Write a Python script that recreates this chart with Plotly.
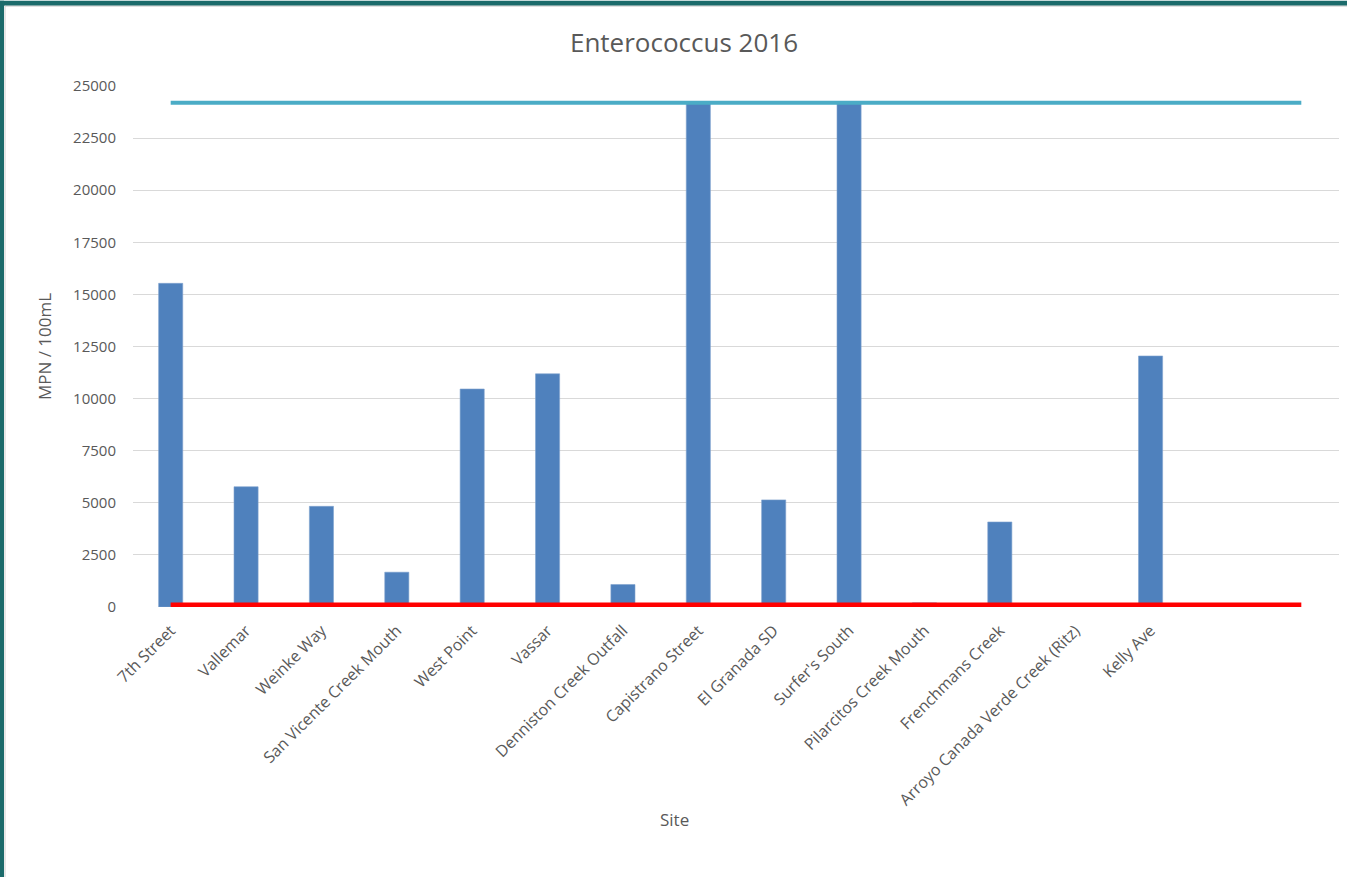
import plotly.graph_objects as go

# Enterococcus results per sampling site, 2016 (MPN / 100mL)
sites = [
    "7th Street", "Vallemar", "Weinke Way", "San Vicente Creek Mouth",
    "West Point", "Vassar", "Denniston Creek Outfall", "Capistrano Street",
    "El Granada SD", "Surfer's South", "Pilarcitos Creek Mouth",
    "Frenchmans Creek", "Arroyo Canada Verde Creek (Ritz)", "Kelly Ave",
]
enterococcus = [15531, 5771, 4830, 1670, 10460, 11190, 1080, 24196,
                5140, 24196, 200, 4080, 0, 12045]

# category slots on the axis (two trailing slots are left empty)
n_slots = 16
upper_limit = 24196   # upper detection limit
threshold = 104       # single-sample standard

y_ticks = [0, 2500, 5000, 7500, 10000, 12500, 15000, 17500, 20000, 22500, 25000]
y_tick_labels = [str(v) for v in y_ticks]

slots = list(range(n_slots))
text_color = "#595959"
font_family = "Open Sans, Noto Sans, sans-serif"

fig = go.Figure()
fig.add_trace(go.Bar(
    x=list(range(len(sites))), y=enterococcus,
    width=0.32, marker=dict(color="#4F81BD", line=dict(color="#7FA3CF", width=0.6)),
    name="Enterococcus",
))
fig.add_trace(go.Scatter(
    x=slots, y=[upper_limit] * n_slots, mode="lines",
    line=dict(color="#4BACC6", width=4), name="Upper limit",
))
fig.add_trace(go.Scatter(
    x=slots, y=[threshold] * n_slots, mode="lines",
    line=dict(color="#FF0000", width=4.5), name="Standard",
))

W, H = 1347, 878
L, R, T, B = 133, 8, 85.5, 270.5
pw, ph = W - L - R, H - T - B

def px_x(v):
    return (v - L) / pw

def px_y(v):
    return (H - B - v) / ph

fig.update_layout(
    width=W, height=H,
    margin=dict(l=L, r=R, t=T, b=B, autoexpand=False),
    paper_bgcolor="white", plot_bgcolor="white",
    showlegend=False,
    font=dict(family=font_family, color=text_color),
    title=dict(text="Enterococcus 2016", x=684 / W, xanchor="center",
               y=1 - 43 / H, yanchor="middle",
               font=dict(size=26, color=text_color, family=font_family)),
    xaxis=dict(
        range=[-0.5, n_slots - 0.5],
        tickmode="array", tickvals=list(range(len(sites))), ticktext=sites,
        tickangle=-45, tickfont=dict(size=16, color=text_color),
        ticks="outside", ticklen=7, tickcolor="rgba(0,0,0,0)",
        showgrid=False, zeroline=False, showline=False,
    ),
    yaxis=dict(
        range=[0, 25000], tickmode="array", tickvals=y_ticks,
        ticktext=y_tick_labels,
        tickfont=dict(size=15, color=text_color),
        ticks="outside", ticklen=13, tickcolor="rgba(0,0,0,0)",
        showgrid=True, gridcolor="#D9D9D9", gridwidth=1,
        zeroline=False, showline=False,
        title=dict(text="MPN / 100mL", font=dict(size=17, color=text_color),
                   standoff=17),
    ),
    annotations=[dict(
        text="Site", xref="paper", yref="paper",
        x=px_x(674), y=px_y(820), xanchor="center", yanchor="middle",
        showarrow=False, font=dict(size=17, color=text_color),
    )],
    shapes=[
        # dark teal window frame along the top and left edges
        dict(type="rect", xref="paper", yref="paper",
             x0=px_x(0), x1=px_x(W), y0=px_y(0), y1=px_y(5),
             fillcolor="#1B6B6B", line=dict(width=0), layer="above"),
        dict(type="rect", xref="paper", yref="paper",
             x0=px_x(0), x1=px_x(4), y0=px_y(0), y1=px_y(H),
             fillcolor="#1B6B6B", line=dict(width=0), layer="above"),
        dict(type="line", xref="paper", yref="paper",
             x0=px_x(5), x1=px_x(5), y0=px_y(5), y1=px_y(H),
             line=dict(color="#D0D0D0", width=1), layer="above"),
        dict(type="line", xref="paper", yref="paper",
             x0=px_x(5), x1=px_x(W), y0=px_y(5.5), y1=px_y(5.5),
             line=dict(color="#D0D0D0", width=1), layer="above"),
    ],
)

fig.write_html("out.html")
